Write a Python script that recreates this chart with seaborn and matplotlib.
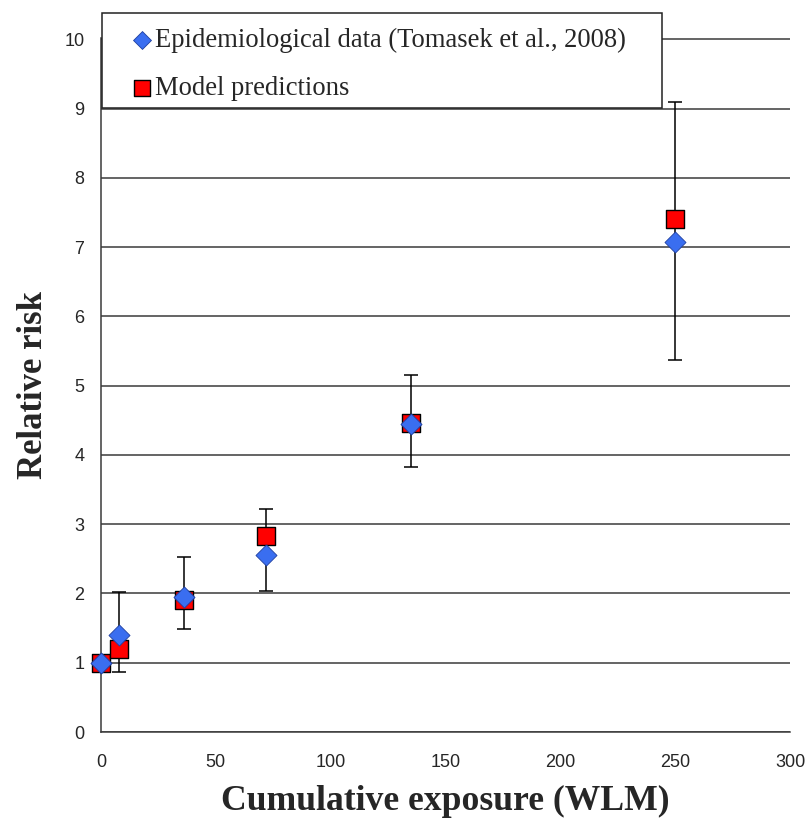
import pandas as pd
import matplotlib.pyplot as plt
import seaborn as sns
from matplotlib.patches import Rectangle

# --- dados
exposicao = [0, 8, 36, 72, 135, 250]
rr_epidemio = [1.0, 1.40, 1.95, 2.55, 4.44, 7.08]
rr_inferior = [1.0, 0.86, 1.48, 2.04, 3.82, 5.37]
rr_superior = [1.0, 2.02, 2.52, 3.22, 5.16, 9.10]
rr_modelo = [1.0, 1.20, 1.91, 2.83, 4.46, 7.41]

rotulo_epi = 'Epidemiological data (Tomasek et al., 2008)'
rotulo_mod = 'Model predictions'

dados = pd.DataFrame({
    'exposicao': exposicao,
    'epi': rr_epidemio,
    'modelo': rr_modelo,
})
err_baixo = [e - lo for e, lo in zip(rr_epidemio, rr_inferior)]
err_cima = [hi - e for e, hi in zip(rr_epidemio, rr_superior)]

sns.set_style('white')
plt.rcParams['font.family'] = ['Liberation Sans', 'DejaVu Sans']

fig = plt.figure(figsize=(8.08, 8.21), dpi=100)
ax = fig.add_axes([0.125, 0.1084, 0.853, 0.8453])

# barras de erro dos dados epidemiológicos
ax.errorbar(exposicao, rr_epidemio, yerr=[err_baixo, err_cima], fmt='none',
            ecolor='black', elinewidth=1.1, capsize=5, capthick=1.1, zorder=3)

sns.scatterplot(data=dados, x='exposicao', y='modelo', marker='s', s=175,
                color='#FF0000', edgecolor='black', linewidth=1.0,
                label=rotulo_mod, zorder=4, clip_on=False, ax=ax)
sns.scatterplot(data=dados, x='exposicao', y='epi', marker='D', s=115,
                color='#3A6EF0', edgecolor='#1F3F9F', linewidth=0.6,
                label=rotulo_epi, zorder=5, clip_on=False, ax=ax)

ax.set_xlim(0, 300)
ax.set_ylim(0, 10.02)
ax.set_xticks(range(0, 301, 50))
ax.set_yticks(range(0, 11))
ax.yaxis.grid(True, color='#3a3a3a', linewidth=1.1)
ax.xaxis.grid(False)
ax.set_axisbelow(True)
for lado in ['top', 'right']:
    ax.spines[lado].set_visible(False)
for lado in ['left', 'bottom']:
    ax.spines[lado].set_color('#3a3a3a')
    ax.spines[lado].set_linewidth(1.1)
ax.tick_params(axis='both', direction='out', length=6, width=1.0,
               color='#3a3a3a', labelsize=13, pad=6)
ax.tick_params(axis='x', pad=10)

ax.set_xlabel('Cumulative exposure (WLM)', family='Liberation Serif',
              fontweight='bold', fontsize=25.7, labelpad=10)
ax.set_ylabel('Relative risk', family='Liberation Serif',
              fontweight='bold', fontsize=25, labelpad=10)

# caixa da legenda, por cima do topo do gráfico
caixa = Rectangle((102 / 808, 1 - 108.5 / 821), 560 / 808, 95.5 / 821,
                  transform=fig.transFigure, facecolor='white',
                  edgecolor='#222222', linewidth=1.1, zorder=8)
fig.add_artist(caixa)

handles, labels = ax.get_legend_handles_labels()
ordem = [labels.index(rotulo_epi), labels.index(rotulo_mod)]
ax.get_legend().remove()
leg = fig.legend([handles[i] for i in ordem], [labels[i] for i in ordem],
                 loc='upper left', bbox_to_anchor=(131.6 / 808, 1 - 28 / 821),
                 borderaxespad=0, borderpad=0, frameon=False, markerscale=0.85,
                 prop={'family': 'Liberation Serif', 'size': 19.2},
                 handlelength=0.79, handletextpad=0.1, labelspacing=0.86)
leg.set_zorder(10)

fig.savefig('out.png', dpi=100)
